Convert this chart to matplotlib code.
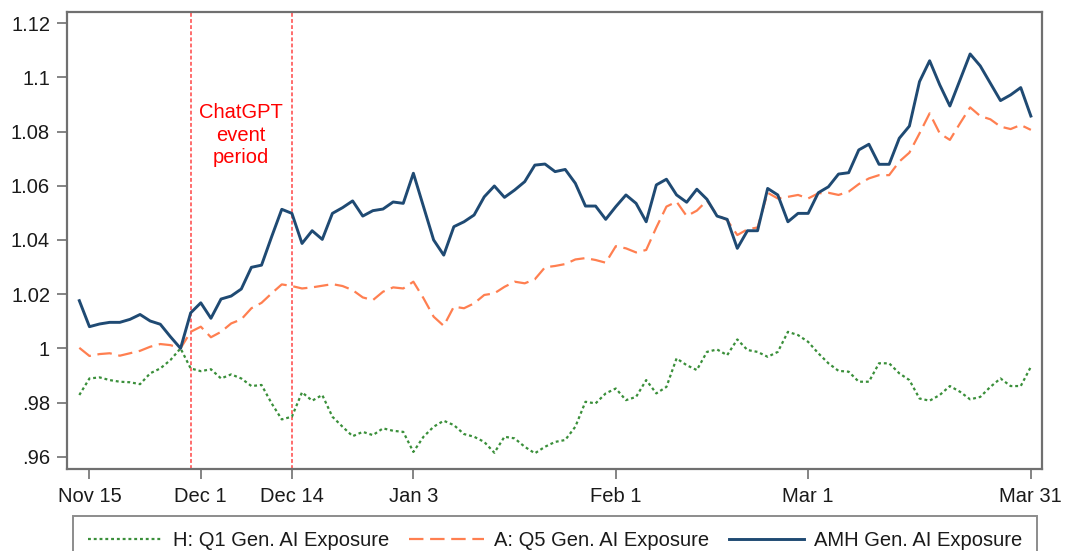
import matplotlib
matplotlib.use("Agg")
import matplotlib.pyplot as plt
import numpy as np

# trading days Nov 14 .. Mar 31, indexed 0..94
tick_pos = [1, 12, 21, 33, 53, 72, 94]
tick_labels = ["Nov 15", "Dec 1", "Dec 14", "Jan 3", "Feb 1", "Mar 1", "Mar 31"]
event_start = 11
event_end = 21

amh = [
    1.0176, 1.0080, 1.0090, 1.0096, 1.0096, 1.0107, 1.0125, 1.0101, 1.0089, 1.0043,
    1.0000, 1.0131, 1.0168, 1.0111, 1.0182, 1.0193, 1.0219, 1.0299, 1.0307, 1.0412,
    1.0513, 1.0498, 1.0387, 1.0434, 1.0402, 1.0498, 1.0519, 1.0544, 1.0488, 1.0508,
    1.0514, 1.0540, 1.0535, 1.0646, 1.0523, 1.0400, 1.0344, 1.0449, 1.0467, 1.0492,
    1.0559, 1.0599, 1.0557, 1.0584, 1.0615, 1.0676, 1.0680, 1.0652, 1.0660, 1.0609,
    1.0525, 1.0525, 1.0476, 1.0523, 1.0566, 1.0535, 1.0467, 1.0603, 1.0624, 1.0566,
    1.0539, 1.0587, 1.0550, 1.0488, 1.0476, 1.0369, 1.0434, 1.0434, 1.0590, 1.0566,
    1.0467, 1.0498, 1.0498, 1.0574, 1.0596, 1.0643, 1.0648, 1.0732, 1.0753, 1.0679,
    1.0679, 1.0775, 1.0820, 1.0984, 1.1061, 1.0972, 1.0894, 1.0990, 1.1086, 1.1042,
    1.0978, 1.0914, 1.0935, 1.0962, 1.0857,
]

q5 = [
    1.0002, 0.9972, 0.9979, 0.9982, 0.9973, 0.9982, 0.9991, 1.0006, 1.0016, 1.0012,
    1.0000, 1.0061, 1.0080, 1.0041, 1.0061, 1.0092, 1.0107, 1.0148, 1.0168, 1.0203,
    1.0236, 1.0230, 1.0221, 1.0225, 1.0231, 1.0237, 1.0230, 1.0215, 1.0188, 1.0178,
    1.0209, 1.0225, 1.0221, 1.0246, 1.0185, 1.0117, 1.0083, 1.0154, 1.0148, 1.0166,
    1.0197, 1.0203, 1.0227, 1.0246, 1.0240, 1.0255, 1.0299, 1.0304, 1.0311, 1.0328,
    1.0333, 1.0326, 1.0316, 1.0377, 1.0369, 1.0354, 1.0363, 1.0446, 1.0523, 1.0541,
    1.0488, 1.0508, 1.0545, 1.0492, 1.0473, 1.0418, 1.0439, 1.0446, 1.0574, 1.0553,
    1.0559, 1.0566, 1.0553, 1.0572, 1.0574, 1.0566, 1.0578, 1.0606, 1.0627, 1.0639,
    1.0639, 1.0689, 1.0722, 1.0793, 1.0867, 1.0793, 1.0769, 1.0830, 1.0889, 1.0857,
    1.0845, 1.0818, 1.0809, 1.0824, 1.0806,
]

q1 = [
    0.9828, 0.9889, 0.9893, 0.9883, 0.9877, 0.9875, 0.9868, 0.9908, 0.9926, 0.9957,
    1.0000, 0.9926, 0.9916, 0.9923, 0.9889, 0.9904, 0.9889, 0.9861, 0.9865, 0.9797,
    0.9738, 0.9748, 0.9838, 0.9807, 0.9828, 0.9748, 0.9711, 0.9676, 0.9692, 0.9680,
    0.9705, 0.9696, 0.9692, 0.9618, 0.9674, 0.9711, 0.9733, 0.9717, 0.9684, 0.9674,
    0.9655, 0.9615, 0.9674, 0.9668, 0.9637, 0.9613, 0.9637, 0.9655, 0.9662, 0.9711,
    0.9803, 0.9797, 0.9834, 0.9852, 0.9809, 0.9821, 0.9883, 0.9834, 0.9858, 0.9963,
    0.9938, 0.9920, 0.9987, 0.9996, 0.9975, 1.0033, 0.9994, 0.9987, 0.9969, 0.9987,
    1.0061, 1.0049, 1.0024, 0.9982, 0.9945, 0.9917, 0.9914, 0.9877, 0.9877, 0.9945,
    0.9945, 0.9908, 0.9883, 0.9815, 0.9807, 0.9828, 0.9861, 0.9840, 0.9812, 0.9821,
    0.9858, 0.9889, 0.9861, 0.9861, 0.9932,
]

y_ticks = [0.96, 0.98, 1.00, 1.02, 1.04, 1.06, 1.08, 1.10, 1.12]
y_tick_labels = [".96", ".98", "1", "1.02", "1.04", "1.06", "1.08", "1.1", "1.12"]

plt.rcParams["font.family"] = ["Liberation Sans", "DejaVu Sans"]

fig = plt.figure(figsize=(10.65, 5.51), dpi=100)
ax = fig.add_axes([0.0626, 0.1488, 0.9158, 0.83])

x = np.arange(len(amh))
frame_col = "#707070"
text_col = "#1a1a1a"

ax.axvline(event_start, color="#ff4545", lw=1.1, ls=(0, (2.5, 1.5)), zorder=1)
ax.axvline(event_end, color="#ff4545", lw=1.1, ls=(0, (2.5, 1.5)), zorder=1)

l1, = ax.plot(x, q1, color="#3a8f3a", lw=1.6, ls=(0, (1.3, 1.3)),
              label="H: Q1 Gen. AI Exposure", zorder=2)
l2, = ax.plot(x, q5, color="#ff7f50", lw=1.6, ls=(0, (6.5, 3)),
              label="A: Q5 Gen. AI Exposure", zorder=3)
l3, = ax.plot(x, amh, color="#1f4a73", lw=2.1,
              label="AMH Gen. AI Exposure", zorder=4)

ax.text(16, 1.0787, "ChatGPT\nevent\nperiod", color="#ff0000", fontsize=14.5,
        ha="center", va="center", multialignment="center", linespacing=1.22)

ax.set_xlim(-1.25, 95.1)
ax.set_ylim(0.9555, 1.1242)
ax.set_xticks(tick_pos)
ax.set_xticklabels(tick_labels)
ax.set_yticks(y_ticks)
ax.set_yticklabels(y_tick_labels)
ax.tick_params(axis="both", direction="out", length=7, width=1.2, color=frame_col,
               labelsize=14.5, labelcolor=text_col)
ax.tick_params(axis="y", pad=5)
ax.tick_params(axis="x", pad=6)
for s in ax.spines.values():
    s.set_color(frame_col)
    s.set_linewidth(1.6)

leg = fig.legend(handles=[l1, l2, l3], loc="upper left",
                 bbox_to_anchor=(73 / 1065, 1 - 516 / 551, 964 / 1065, 0),
                 mode="expand", ncol=3, fontsize=14.5, frameon=True, fancybox=False,
                 handlelength=3.7, handletextpad=0.5, columnspacing=1.0,
                 borderpad=0.75, borderaxespad=0)
leg.get_frame().set_edgecolor(frame_col)
leg.get_frame().set_linewidth(1.4)
for t in leg.get_texts():
    t.set_color(text_col)

fig.savefig("out.png", dpi=100)
